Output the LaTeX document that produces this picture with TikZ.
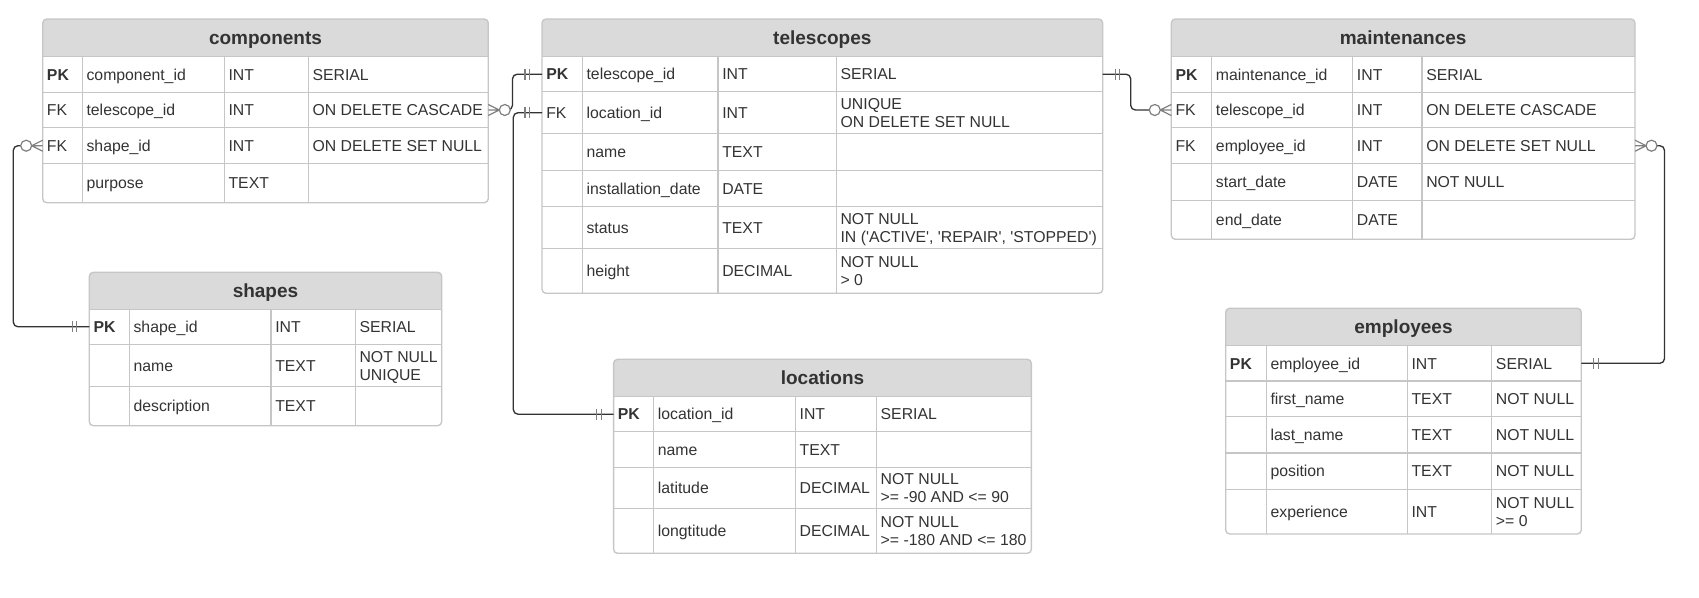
\documentclass[tikz,border=0pt]{standalone}
\usepackage{fontspec}
\setmainfont{Liberation Sans}[Ligatures=TeXOff]
\definecolor{ertext}{HTML}{333333}
\definecolor{ergridc}{HTML}{C6C6C6}
\definecolor{erhead}{HTML}{DADADA}
\definecolor{erline}{HTML}{333333}
\definecolor{ermarkc}{HTML}{7F7F7F}
\tikzset{
  ergrid/.style={draw=ergridc, line width=1pt},
  ertitle/.style={anchor=base, inner sep=0pt, text=ertext, font=\fontsize{14.25pt}{17pt}\selectfont\bfseries},
  ercellt/.style={anchor=base west, inner sep=0pt, text=ertext, font=\fontsize{11.85pt}{13.7pt}\selectfont},
  erlink/.style={draw=erline, line width=1pt, rounded corners=3.5pt},
  ermark/.style={draw=ermarkc, line width=0.9pt},
}
% table frame: name, x0, x4, ytop, yhead, ybot, title
\newcommand{\ertable}[7]{%
  \begin{scope}
    \clip ({#2-2},{#4-2}) rectangle ({#3+2},#5);
    \fill[erhead, rounded corners=3pt] (#2,#4) rectangle (#3,#6);
  \end{scope}
  \draw[ergrid] (#2,#5) -- (#3,#5);
  \draw[ergrid, rounded corners=3pt] (#2,#4) rectangle (#3,#6);
  \node[ertitle] (#1) at ({(#2+#3)/2},{(#4+#5)/2+6.8}) {#7};
}
\newcommand{\ercols}[5]{\draw[ergrid] (#1,#4) -- (#1,#5) (#2,#4) -- (#2,#5) (#3,#4) -- (#3,#5);}
\newcommand{\errule}[3]{\draw[ergrid] (#1,#3) -- (#2,#3);}
\newcommand{\ercell}[4]{\node[ercellt] (#1) at ({#2+4},{#3+5.7}) {#4};}
\newcommand{\ercelltwo}[5]{\node[ercellt] (#1a) at ({#2+4},{#3-9+5.7}) {#4};
  \node[ercellt] (#1b) at ({#2+4},{#3+9+5.7}) {#5};}
\newcommand{\erzmany}[2]{\begin{scope}[shift={(#1)}, xscale=#2]
  \draw[ermark] (0,-5.5) -- (11,0) -- (0,5.5) (0,0) -- (11,0);
  \draw[ermark, fill=white] (16.5,0) circle [radius=5.5];
  \end{scope}}
\newcommand{\ermone}[2]{\begin{scope}[shift={(#1)}, xscale=#2]
  \draw[ermark] (12.5,-5.5) -- (12.5,5.5) (17,-5.5) -- (17,5.5);
  \end{scope}}

\begin{document}
\begin{tikzpicture}[x=0.75pt, y=-0.75pt]
\useasboundingbox (0,0) rectangle (1699,597);

% ---------------- components ----------------
\ertable{comp}{42.7}{488.3}{19}{56.7}{202.7}{components}
\errule{42.7}{488.3}{92.3}\errule{42.7}{488.3}{127.7}\errule{42.7}{488.3}{163.7}
\ercols{82.3}{224.3}{308.3}{56.7}{202.7}
\ercell{comp-k1}{42.7}{74.5}{\textbf{PK}}
\ercell{comp-n1}{82.3}{74.5}{component\_id}
\ercell{comp-t1}{224.3}{74.5}{INT}
\ercell{comp-c1}{308.3}{74.5}{SERIAL}
\ercell{comp-k2}{42.7}{110}{FK}
\ercell{comp-n2}{82.3}{110}{telescope\_id}
\ercell{comp-t2}{224.3}{110}{INT}
\ercell{comp-c2}{308.3}{110}{ON DELETE CASCADE}
\ercell{comp-k3}{42.7}{145.7}{FK}
\ercell{comp-n3}{82.3}{145.7}{shape\_id}
\ercell{comp-t3}{224.3}{145.7}{INT}
\ercell{comp-c3}{308.3}{145.7}{ON DELETE SET NULL}
\ercell{comp-n4}{82.3}{183.2}{purpose}
\ercell{comp-t4}{224.3}{183.2}{TEXT}

% ---------------- telescopes ----------------
\ertable{tel}{542}{1102.7}{19}{56.7}{293.3}{telescopes}
\errule{542}{1102.7}{91.7}\errule{542}{1102.7}{133.7}\errule{542}{1102.7}{170.3}
\errule{542}{1102.7}{206.3}\errule{542}{1102.7}{248.3}
\ercols{582.3}{718}{836.3}{56.7}{293.3}
\ercell{tel-k1}{542}{74.2}{\textbf{PK}}
\ercell{tel-n1}{582.3}{74.2}{telescope\_id}
\ercell{tel-t1}{718}{74.2}{INT}
\ercell{tel-c1}{836.3}{74.2}{SERIAL}
\ercell{tel-k2}{542}{112.7}{FK}
\ercell{tel-n2}{582.3}{112.7}{location\_id}
\ercell{tel-t2}{718}{112.7}{INT}
\ercelltwo{tel-c2}{836.3}{112.7}{UNIQUE}{ON DELETE SET NULL}
\ercell{tel-n3}{582.3}{152}{name}
\ercell{tel-t3}{718}{152}{TEXT}
\ercell{tel-n4}{582.3}{188.3}{installation\_date}
\ercell{tel-t4}{718}{188.3}{DATE}
\ercell{tel-n5}{582.3}{227.3}{status}
\ercell{tel-t5}{718}{227.3}{TEXT}
\ercelltwo{tel-c5}{836.3}{227.3}{NOT NULL}{IN ('ACTIVE', 'REPAIR', 'STOPPED')}
\ercell{tel-n6}{582.3}{270.8}{height}
\ercell{tel-t6}{718}{270.8}{DECIMAL}
\ercelltwo{tel-c6}{836.3}{270.8}{NOT NULL}{> 0}

% ---------------- maintenances ----------------
\ertable{mnt}{1171.3}{1635}{19}{56.7}{239.3}{maintenances}
\errule{1171.3}{1635}{92.3}\errule{1171.3}{1635}{127.7}\errule{1171.3}{1635}{163.7}\errule{1171.3}{1635}{200.3}
\ercols{1211.7}{1352.7}{1422}{56.7}{239.3}
\ercell{mnt-k1}{1171.3}{74.5}{\textbf{PK}}
\ercell{mnt-n1}{1211.7}{74.5}{maintenance\_id}
\ercell{mnt-t1}{1352.7}{74.5}{INT}
\ercell{mnt-c1}{1422}{74.5}{SERIAL}
\ercell{mnt-k2}{1171.3}{110}{FK}
\ercell{mnt-n2}{1211.7}{110}{telescope\_id}
\ercell{mnt-t2}{1352.7}{110}{INT}
\ercell{mnt-c2}{1422}{110}{ON DELETE CASCADE}
\ercell{mnt-k3}{1171.3}{145.7}{FK}
\ercell{mnt-n3}{1211.7}{145.7}{employee\_id}
\ercell{mnt-t3}{1352.7}{145.7}{INT}
\ercell{mnt-c3}{1422}{145.7}{ON DELETE SET NULL}
\ercell{mnt-n4}{1211.7}{182}{start\_date}
\ercell{mnt-t4}{1352.7}{182}{DATE}
\ercell{mnt-c4}{1422}{182}{NOT NULL}
\ercell{mnt-n5}{1211.7}{219.8}{end\_date}
\ercell{mnt-t5}{1352.7}{219.8}{DATE}

% ---------------- shapes ----------------
\ertable{shp}{89.3}{441.7}{272.3}{309.3}{425.7}{shapes}
\errule{89.3}{441.7}{344.3}\errule{89.3}{441.7}{386.3}
\ercols{129.3}{271}{355.3}{309.3}{425.7}
\ercell{shp-k1}{89.3}{326.8}{\textbf{PK}}
\ercell{shp-n1}{129.3}{326.8}{shape\_id}
\ercell{shp-t1}{271}{326.8}{INT}
\ercell{shp-c1}{355.3}{326.8}{SERIAL}
\ercell{shp-n2}{129.3}{365.3}{name}
\ercell{shp-t2}{271}{365.3}{TEXT}
\ercelltwo{shp-c2}{355.3}{365.3}{NOT NULL}{UNIQUE}
\ercell{shp-n3}{129.3}{406}{description}
\ercell{shp-t3}{271}{406}{TEXT}

% ---------------- locations ----------------
\ertable{loc}{613.6}{1031.4}{359.3}{396.7}{553.3}{locations}
\errule{613.6}{1031.4}{431.7}\errule{613.6}{1031.4}{467.3}\errule{613.6}{1031.4}{508.7}
\ercols{653.6}{795.4}{876.4}{396.7}{553.3}
\ercell{loc-k1}{613.6}{414.2}{\textbf{PK}}
\ercell{loc-n1}{653.6}{414.2}{location\_id}
\ercell{loc-t1}{795.4}{414.2}{INT}
\ercell{loc-c1}{876.4}{414.2}{SERIAL}
\ercell{loc-n2}{653.6}{449.5}{name}
\ercell{loc-t2}{795.4}{449.5}{TEXT}
\ercell{loc-n3}{653.6}{488}{latitude}
\ercell{loc-t3}{795.4}{488}{DECIMAL}
\ercelltwo{loc-c3}{876.4}{488}{NOT NULL}{>= -90 AND <= 90}
\ercell{loc-n4}{653.6}{531}{longtitude}
\ercell{loc-t4}{795.4}{531}{DECIMAL}
\ercelltwo{loc-c4}{876.4}{531}{NOT NULL}{>= -180 AND <= 180}

% ---------------- employees ----------------
\ertable{emp}{1225.7}{1581.3}{308.3}{345.7}{534}{employees}
\errule{1225.7}{1581.3}{381}\errule{1225.7}{1581.3}{416.3}\errule{1225.7}{1581.3}{453}\errule{1225.7}{1581.3}{489.3}
\ercols{1266.3}{1407.3}{1491.7}{345.7}{534}
\ercell{emp-k1}{1225.7}{363.3}{\textbf{PK}}
\ercell{emp-n1}{1266.3}{363.3}{employee\_id}
\ercell{emp-t1}{1407.3}{363.3}{INT}
\ercell{emp-c1}{1491.7}{363.3}{SERIAL}
\ercell{emp-n2}{1266.3}{398.7}{first\_name}
\ercell{emp-t2}{1407.3}{398.7}{TEXT}
\ercell{emp-c2}{1491.7}{398.7}{NOT NULL}
\ercell{emp-n3}{1266.3}{434.7}{last\_name}
\ercell{emp-t3}{1407.3}{434.7}{TEXT}
\ercell{emp-c3}{1491.7}{434.7}{NOT NULL}
\ercell{emp-n4}{1266.3}{471.2}{position}
\ercell{emp-t4}{1407.3}{471.2}{TEXT}
\ercell{emp-c4}{1491.7}{471.2}{NOT NULL}
\ercell{emp-n5}{1266.3}{511.7}{experience}
\ercell{emp-t5}{1407.3}{511.7}{INT}
\ercelltwo{emp-c5}{1491.7}{511.7}{NOT NULL}{>= 0}

% ---------------- connector end points ----------------
\coordinate (c-tel) at (488.3,110);
\coordinate (c-shp) at (42.7,145.7);
\coordinate (t-pkl) at (542,74.2);
\coordinate (t-loc) at (542,112.7);
\coordinate (t-pkr) at (1102.7,74.2);
\coordinate (s-pk) at (89.3,326.8);
\coordinate (l-pk) at (613.6,414.2);
\coordinate (m-tel) at (1171.3,110);
\coordinate (m-emp) at (1635,145.7);
\coordinate (e-pk) at (1581.3,363.3);

% ---------------- connectors ----------------
\draw[erlink] ([xshift=12.375pt]c-tel) -- ++(7.7,0) |- (t-pkl);
\draw[erlink] ([xshift=-12.375pt]c-shp) -- ++(-12.9,0) |- (s-pk);
\draw[erlink] (t-loc) -- ++(-28.7,0) |- (l-pk);
\draw[erlink] (t-pkr) -- ++(28,0) |- ([xshift=-12.375pt]m-tel);
\draw[erlink] ([xshift=12.375pt]m-emp) -- ++(13,0) |- (e-pk);

% ---------------- markers ----------------
\erzmany{c-tel}{1}
\erzmany{c-shp}{-1}
\erzmany{m-tel}{-1}
\erzmany{m-emp}{1}
\ermone{t-pkl}{-1}
\ermone{t-loc}{-1}
\ermone{t-pkr}{1}
\ermone{s-pk}{-1}
\ermone{l-pk}{-1}
\ermone{e-pk}{1}
\end{tikzpicture}
\end{document}
